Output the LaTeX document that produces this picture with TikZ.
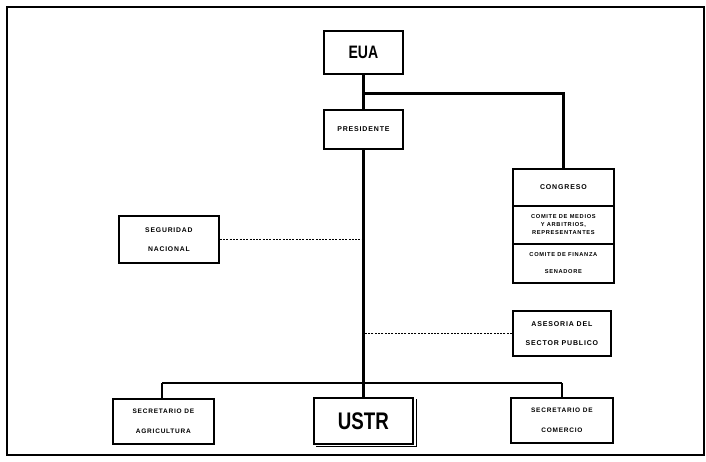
\documentclass[tikz,border=0pt]{standalone}
\usepackage{fontspec}
\setmainfont{Liberation Sans}
\newfontfamily\smallfont[LetterSpace=12]{Liberation Sans}
\newfontfamily\condfont[FakeStretch=0.78]{Liberation Sans}
\tikzset{
  box/.style={draw, line width=1.8pt, rectangle, inner sep=0pt, align=center, anchor=north west},
  small/.style={font=\smallfont\bfseries\fontsize{6.5}{12}\selectfont},
  big/.style={font=\condfont\bfseries\fontsize{18}{20}\selectfont},
  thickline/.style={line width=3pt},
  thinline/.style={line width=1.3pt},
  dotline/.style={line width=1.6pt, dash pattern=on 2pt off 1.3pt},
}
\begin{document}
\begin{tikzpicture}[x=1pt,y=-1pt]
\useasboundingbox (0,0) rectangle (706,461);
\draw[line width=1.8pt] (7,7) rectangle (704,455);
% nodes
\node[box, big, minimum width=79pt, minimum height=43pt] (eua) at (323,30) {EUA};
\node[box, small, minimum width=79pt, minimum height=39pt, font=\smallfont\bfseries\fontsize{7}{12}\selectfont] (pres) at (323,109) {PRESIDENTE};
\node[box, small, minimum width=101pt, minimum height=37pt, font=\smallfont\bfseries\fontsize{7}{12}\selectfont] (cong) at (512,168) {CONGRESO};
\node[box, small, minimum width=101pt, minimum height=38pt, font=\smallfont\bfseries\fontsize{5.7}{8}\selectfont] (medios) at (512,205) {COMITE DE MEDIOS\\Y ARBITRIOS,\\REPRESENTANTES};
\node[box, small, minimum width=101pt, minimum height=39pt, font=\smallfont\bfseries\fontsize{5.7}{17}\selectfont] (fin) at (512,243) {COMITE DE FINANZA\\SENADORE};
\node[box, small, minimum width=100pt, minimum height=47pt, font=\smallfont\bfseries\fontsize{6.8}{19}\selectfont] (seg) at (118,215) {SEGURIDAD\\NACIONAL};
\node[box, small, minimum width=98pt, minimum height=45pt, font=\smallfont\bfseries\fontsize{7}{19}\selectfont] (ases) at (512,310) {ASESORIA DEL\\SECTOR PUBLICO};
\node[box, small, minimum width=101pt, minimum height=45pt, font=\smallfont\bfseries\fontsize{6.5}{20}\selectfont] (agri) at (112,398) {SECRETARIO DE\\AGRICULTURA};
\node[box, big, minimum width=99pt, minimum height=46pt, font=\condfont\bfseries\fontsize{24}{24}\selectfont] (ustr) at (313,397) {USTR};
\node[box, small, minimum width=102pt, minimum height=45pt, font=\smallfont\bfseries\fontsize{6.5}{20}\selectfont] (com) at (510,397) {SECRETARIO DE\\COMERCIO};
\draw[line width=1.3pt] ([xshift=3pt,yshift=-2pt]ustr.north east) -- ([xshift=3pt,yshift=-2pt]ustr.south east) -- ([xshift=3pt,yshift=-2pt]ustr.south west);
% coordinates
\coordinate (j1) at (365,93);
\coordinate (j2) at (563,93);
\coordinate (ja) at (162,383);
\coordinate (jc) at (562,383);
% connectors
\draw[thickline] (eua.south) -- (pres.north);
\draw[thickline] (j1) -- (j2) -- (j2 |- cong.north);
\draw[thickline] (pres.south) -- (ustr.north);
\draw[thinline] (ja) -- (jc);
\draw[thinline] (ja) -- (ja |- agri.north);
\draw[thinline] (jc) -- (jc |- com.north);
\draw[dotline] (seg.east) -- (seg.east -| pres.south);
\draw[dotline] (ases.west) -- (ases.west -| pres.south);
\end{tikzpicture}
\end{document}
